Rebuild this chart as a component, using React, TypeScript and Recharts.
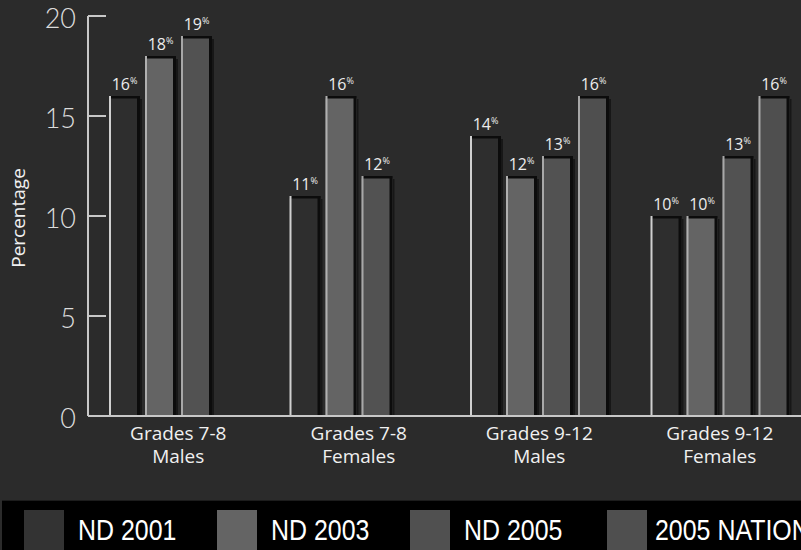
import React from 'react';
import { BarChart, Bar, XAxis, YAxis, LabelList } from 'recharts';

const gradeLabels = ['Grades 7-8', 'Grades 7-8', 'Grades 9-12', 'Grades 9-12'];
const genderLabels = ['Males', 'Females', 'Males', 'Females'];
const seriesNames = ['ND 2001', 'ND 2003', 'ND 2005', '2005 NATIONAL'];
const nd2001 = [16, 11, 14, 10];
const nd2003 = [18, 16, 12, 10];
const nd2005 = [19, 12, 13, 13];
const national2005: (number | null)[] = [null, null, 16, 16];
const yTicks = [0, 5, 10, 15, 20];

const seriesKeys = ['nd2001', 'nd2003', 'nd2005', 'national2005'];
const seriesColors = ['#2e2e2e', '#646464', '#525252', '#4f4f4f'];
const legendColors = ['#333333', '#646464', '#505050', '#4f4f4f'];
const highlightColors = ['#d0d0d0', '#b0b0b0', '#a8a8a8', '#a8a8a8'];

const data = gradeLabels.map((g, i) => ({
  category: `${g}|${genderLabels[i]}`,
  nd2001: nd2001[i],
  nd2003: nd2003[i],
  nd2005: nd2005[i],
  national2005: national2005[i],
}));

const FONT = '"Open Sans", "Noto Sans", sans-serif';

const makeShape = (idx: number) => (props: any) => {
  const { x, y, width, height, fill } = props;
  if (height == null || height <= 0 || isNaN(height)) return null;
  return (
    <g>
      <rect x={x} y={y} width={width} height={height} fill={fill} />
      <rect x={x + width} y={y + 3} width={2} height={height - 3} fill="#000" opacity={0.45} />
      <rect x={x + width - 3} y={y} width={3} height={height} fill="#0c0c0c" />
      <rect x={x} y={y} width={width} height={2.5} fill="#0c0c0c" />
      <rect x={x} y={y} width={2} height={height} fill={highlightColors[idx]} />
    </g>
  );
};

const ValueLabel = (props: any) => {
  const { x, y, width, value } = props;
  if (value == null) return null;
  return (
    <text
      x={x + width / 2}
      y={y - 6}
      textAnchor="middle"
      fill="#ececec"
      fontSize={16}
      fontFamily={FONT}
    >
      {value}
      <tspan fontSize={9} dy={-6}>%</tspan>
    </text>
  );
};

const YTick = (props: any) => {
  const { x, y, payload } = props;
  return (
    <g>
      <line x1={x} y1={y} x2={x + 18} y2={y} stroke="#c8c8c8" strokeWidth={2} />
      <text
        x={x - 12}
        y={y + 12}
        textAnchor="end"
        fill="#dcdcdc"
        fontSize={27}
        fontWeight={300}
        fontFamily='Lato, "DejaVu Sans", sans-serif'
      >
        {payload.value}
      </text>
    </g>
  );
};

const XTick = (props: any) => {
  const { x, y, payload } = props;
  const [l1, l2] = String(payload.value).split('|');
  return (
    <g>
      <text x={x} y={y + 24} textAnchor="middle" fill="#f0f0f0" fontSize={19} fontFamily={FONT}>
        {l1}
      </text>
      <text x={x} y={y + 47} textAnchor="middle" fill="#f0f0f0" fontSize={19} fontFamily={FONT}>
        {l2}
      </text>
    </g>
  );
};

const YLabel = (props: any) => {
  const vb = props.viewBox || { x: 0, y: 16, width: 88, height: 400 };
  const cx = vb.x + 25;
  const cy = vb.y + vb.height / 2 + 2;
  return (
    <text
      x={cx}
      y={cy}
      transform={`rotate(-90, ${cx}, ${cy})`}
      textAnchor="middle"
      fill="#f0f0f0"
      fontSize={19}
      fontFamily={FONT}
    >
      Percentage
    </text>
  );
};

const legendSquareX = [24, 217, 410, 607];

export default function App() {
  return (
    <div
      style={{
        position: 'absolute',
        left: 0,
        top: 0,
        width: 801,
        height: 550,
        overflow: 'hidden',
        background: '#2b2b2b',
      }}
    >
      <BarChart
        width={810}
        height={500}
        data={data}
        margin={{ top: 16, right: 0, left: 0, bottom: 0 }}
        barSize={31}
        barGap={5}
      >
        <XAxis
          dataKey="category"
          height={84}
          axisLine={{ stroke: '#c8c8c8', strokeWidth: 2 }}
          tickLine={false}
          tickSize={0}
          tickMargin={0}
          tick={<XTick />}
          interval={0}
        />
        <YAxis
          width={88}
          domain={[0, 20]}
          ticks={yTicks}
          axisLine={{ stroke: '#c8c8c8', strokeWidth: 2 }}
          tickLine={false}
          tickSize={0}
          tickMargin={0}
          tick={<YTick />}
          label={<YLabel />}
        />
        {seriesKeys.map((k, i) => (
          <Bar
            key={k}
            dataKey={k}
            name={seriesNames[i]}
            fill={seriesColors[i]}
            shape={makeShape(i)}
            isAnimationActive={false}
          >
            <LabelList dataKey={k} content={<ValueLabel />} />
          </Bar>
        ))}
      </BarChart>
      <svg width={801} height={50} style={{ position: 'absolute', left: 0, top: 500 }}>
        <rect x={2} y={0} width={799} height={50} fill="#000" />
        <line x1={2} y1={0.5} x2={801} y2={0.5} stroke="#1c1c1c" />
        {seriesNames.map((n, i) => (
          <g key={n}>
            <rect x={legendSquareX[i]} y={10} width={40} height={40} fill={legendColors[i]} />
            <text
              transform={`translate(${legendSquareX[i] + (i === 3 ? 48 : 54)}, 40) scale(0.86, 1)`}
              x={0}
              y={0}
              fill="#ffffff"
              fontSize={29}
              fontFamily='"Liberation Sans", Arial, sans-serif'
            >
              {n}
            </text>
          </g>
        ))}
      </svg>
    </div>
  );
}
